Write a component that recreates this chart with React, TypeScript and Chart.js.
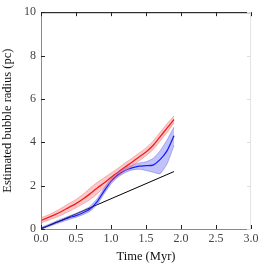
import React, { useEffect, useRef } from "react";
import { Chart, registerables } from "chart.js";
Chart.register(...registerables);

const times = [0, 0.1, 0.2, 0.3, 0.4, 0.5, 0.6, 0.7, 0.8, 0.9, 1.0, 1.1, 1.2, 1.3, 1.4, 1.5, 1.6, 1.7, 1.8, 1.9];
const redMean = [0.4, 0.52, 0.66, 0.82, 1.0, 1.17, 1.38, 1.62, 1.88, 2.12, 2.38, 2.62, 2.86, 3.08, 3.32, 3.55, 3.85, 4.25, 4.65, 5.05];
const redLow = [0.28, 0.4, 0.52, 0.66, 0.82, 0.98, 1.16, 1.36, 1.62, 1.9, 2.18, 2.44, 2.68, 2.9, 3.14, 3.38, 3.66, 4.05, 4.45, 4.9];
const redHigh = [0.52, 0.64, 0.8, 0.98, 1.18, 1.36, 1.6, 1.88, 2.14, 2.36, 2.58, 2.8, 3.04, 3.26, 3.5, 3.74, 4.05, 4.45, 4.85, 5.22];
const blueMean = [0.03, 0.15, 0.28, 0.4, 0.52, 0.62, 0.75, 0.92, 1.25, 1.75, 2.2, 2.5, 2.7, 2.82, 2.9, 2.92, 2.95, 3.2, 3.6, 4.3];
const blueLow = [0.0, 0.1, 0.22, 0.33, 0.44, 0.54, 0.66, 0.82, 1.12, 1.62, 2.08, 2.4, 2.6, 2.72, 2.76, 2.7, 2.62, 2.55, 3.0, 3.85];
const blueHigh = [0.07, 0.2, 0.34, 0.47, 0.6, 0.72, 0.86, 1.04, 1.38, 1.88, 2.32, 2.6, 2.8, 2.94, 3.04, 3.1, 3.25, 3.6, 4.1, 4.7];
const refLineT = [0, 1.9];
const refLineR = [0, 2.65];
const xTicks = [0, 0.5, 1.0, 1.5, 2.0, 2.5, 3.0];
const yTicks = [0, 2, 4, 6, 8, 10];

const pts = (ys: number[], xs: number[] = times) => xs.map((x, i) => ({ x, y: ys[i] }));

const framePlugin = {
  id: "frame",
  afterDraw(chart: any) {
    const { ctx, chartArea: a, scales } = chart;
    const xs = scales.x, ys = scales.y;
    ctx.save();
    ctx.lineWidth = 1;
    ctx.strokeStyle = "#8a8a8a";
    ctx.beginPath();
    ctx.moveTo(a.left + 0.5, a.top);
    ctx.lineTo(a.left + 0.5, a.bottom + 0.5);
    ctx.lineTo(a.right, a.bottom + 0.5);
    ctx.stroke();
    ctx.strokeStyle = "#000";
    ctx.beginPath();
    ctx.moveTo(a.left, a.top + 0.5);
    ctx.lineTo(a.right, a.top + 0.5);
    ctx.stroke();
    ctx.strokeStyle = "#e4e4e4";
    ctx.beginPath();
    ctx.moveTo(a.right - 0.5, a.top);
    ctx.lineTo(a.right - 0.5, a.bottom);
    ctx.stroke();
    ctx.strokeStyle = "#222";
    xTicks.forEach((v) => {
      const px = Math.round(xs.getPixelForValue(v)) + 0.5;
      ctx.beginPath();
      ctx.moveTo(px, a.bottom);
      ctx.lineTo(px, a.bottom - 4);
      ctx.moveTo(px, a.top);
      ctx.lineTo(px, a.top + 4);
      ctx.stroke();
    });
    yTicks.forEach((v) => {
      const py = Math.round(ys.getPixelForValue(v)) + 0.5;
      ctx.strokeStyle = "#222";
      ctx.beginPath();
      ctx.moveTo(a.left, py);
      ctx.lineTo(a.left + 4, py);
      ctx.stroke();
      ctx.strokeStyle = "#ddd";
      ctx.beginPath();
      ctx.moveTo(a.right, py);
      ctx.lineTo(a.right - 4, py);
      ctx.stroke();
    });
    ctx.restore();
  },
};

export default function App() {
  const ref = useRef<HTMLCanvasElement>(null);
  useEffect(() => {
    if (!ref.current) return;
    const font = { family: "'Liberation Serif', 'DejaVu Serif', serif", size: 12 };
    const titleFont = { family: "'Liberation Serif', 'DejaVu Serif', serif", size: 12.5 };
    const chart = new Chart(ref.current, {
      type: "line",
      data: {
        datasets: [
          { data: pts(redHigh), borderColor: "rgba(240,120,120,0.5)", borderWidth: 1, pointRadius: 0, fill: "+1", backgroundColor: "rgba(240,80,80,0.3)", tension: 0.3 },
          { data: pts(redLow), borderColor: "rgba(240,120,120,0.5)", borderWidth: 1, pointRadius: 0, fill: false, tension: 0.3 },
          { data: pts(blueHigh), borderColor: "rgba(110,110,240,0.5)", borderWidth: 1, pointRadius: 0, fill: "+1", backgroundColor: "rgba(80,80,240,0.35)", tension: 0.15 },
          { data: pts(blueLow), borderColor: "rgba(110,110,240,0.5)", borderWidth: 1, pointRadius: 0, fill: false, tension: 0.15 },
          { data: pts(refLineR, refLineT), borderColor: "#000", borderWidth: 1, pointRadius: 0, fill: false },
          { data: pts(redMean), borderColor: "#ff0000", borderWidth: 1.3, pointRadius: 0, fill: false, tension: 0.3 },
          { data: pts(blueMean), borderColor: "#0000ff", borderWidth: 1.3, pointRadius: 0, fill: false, tension: 0.2 },
        ],
      },
      options: {
        animation: false,
        responsive: false,
        layout: { padding: { top: 12, right: 15, left: 0, bottom: 6 } },
        plugins: { legend: { display: false }, tooltip: { enabled: false } },
        scales: {
          x: {
            type: "linear",
            min: 0,
            max: 3,
            afterBuildTicks: (s: any) => { s.ticks = xTicks.map((v) => ({ value: v })); },
            afterFit: (s: any) => { s.height = 35; },
            grid: { display: false, drawTicks: false },
            border: { display: false },
            ticks: { font, color: "#444", padding: 3, callback: (v: any) => Number(v).toFixed(1), maxRotation: 0 },
            title: { display: true, text: "Time (Myr)", font: titleFont, color: "#111", padding: { top: 2, bottom: 0 } },
          },
          y: {
            type: "linear",
            min: 0,
            max: 10,
            afterBuildTicks: (s: any) => { s.ticks = yTicks.map((v) => ({ value: v })); },
            afterFit: (s: any) => { s.width = 41; },
            grid: { display: false, drawTicks: false },
            border: { display: false },
            ticks: { font, color: "#444", padding: 5 },
            title: { display: true, text: "Estimated bubble radius (pc)", font: titleFont, color: "#111", padding: { top: 0, bottom: 2 } },
          },
        },
      },
      plugins: [framePlugin],
    });
    return () => chart.destroy();
  }, []);
  return (
    <div style={{ position: "fixed", left: 0, top: 0, width: 266, height: 270, background: "#fff" }}>
      <canvas ref={ref} width={266} height={270} />
    </div>
  );
}
